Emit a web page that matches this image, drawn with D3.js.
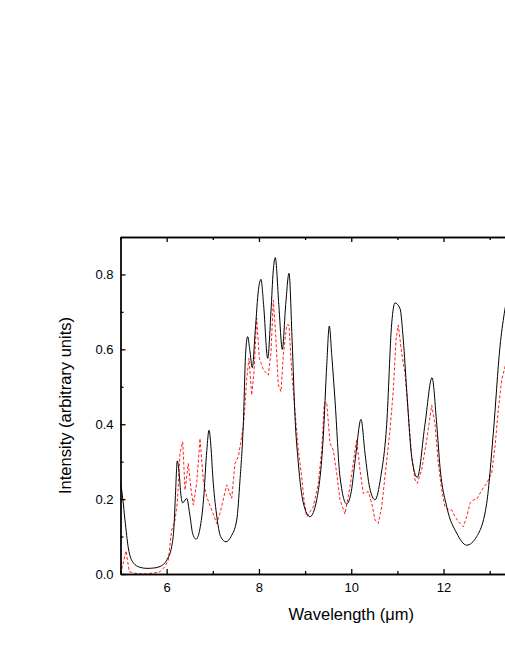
<!DOCTYPE HTML>
<html>
    <head>
        <meta charset="utf-8">
        <style>
            body { margin: 0; background: #fff; }
            .axis path, .axis line { stroke: #000; stroke-width: 1.3; }
            .title { font-family: "Liberation Sans", Arial, sans-serif; font-size: 16.5px; fill: #000; }
        </style>
        <script src="https://d3js.org/d3.v7.min.js"></script>
    </head>
    <body>
        <svg width="505" height="654"></svg>
        <script>
            // measured spectrum (solid black)
            var calcX = [5.0, 5.05, 5.097, 5.169, 5.277, 5.42, 5.568, 5.72, 5.856, 6.001, 6.109, 6.16, 6.19, 6.231,
                         6.27, 6.31, 6.348, 6.434, 6.5, 6.56, 6.636, 6.72, 6.80, 6.87, 6.918, 6.96, 7.0, 7.08, 7.17,
                         7.286, 7.394, 7.518, 7.589, 7.661, 7.713, 7.756, 7.80, 7.856, 7.92, 7.99, 8.044, 8.10, 8.19,
                         8.26, 8.31, 8.354, 8.43, 8.506, 8.58, 8.651, 8.72, 8.781, 8.853, 8.961, 9.106, 9.251, 9.394,
                         9.47, 9.524, 9.58, 9.648, 9.756, 9.901, 10.0, 10.1, 10.211, 10.3, 10.4, 10.515, 10.64,
                         10.768, 10.877, 10.948, 11.056, 11.128, 11.202, 11.310, 11.431, 11.598, 11.750, 11.852,
                         11.923, 12.068, 12.285, 12.502, 12.718, 12.935, 13.078, 13.223, 13.316, 13.4];
            var calcY = [0.246, 0.20, 0.144, 0.07, 0.03, 0.018, 0.015, 0.016, 0.02, 0.037, 0.073, 0.13, 0.21, 0.302,
                         0.27, 0.21, 0.19, 0.202, 0.16, 0.11, 0.093, 0.12, 0.2, 0.33, 0.384, 0.34, 0.26, 0.16, 0.1,
                         0.086, 0.10, 0.144, 0.25, 0.40, 0.593, 0.634, 0.60, 0.551, 0.65, 0.76, 0.787, 0.72, 0.576,
                         0.70, 0.81, 0.845, 0.72, 0.60, 0.72, 0.803, 0.62, 0.42, 0.296, 0.19, 0.153, 0.198, 0.367,
                         0.56, 0.662, 0.58, 0.464, 0.26, 0.187, 0.22, 0.32, 0.413, 0.32, 0.23, 0.198, 0.26,
                         0.40, 0.67, 0.724, 0.709, 0.625, 0.49, 0.313, 0.258, 0.40, 0.524, 0.40,
                         0.286, 0.18, 0.109, 0.077, 0.10, 0.189, 0.376, 0.607, 0.696, 0.75];

            // second spectrum (red dashed)
            var obsX = [5.004, 5.119, 5.191, 5.314, 5.531, 5.748, 5.856, 5.964, 6.036, 6.109, 6.181, 6.231, 6.289,
                        6.348, 6.398, 6.469, 6.521, 6.577, 6.651, 6.723, 6.794, 6.868, 6.976, 7.084, 7.156, 7.301,
                        7.410, 7.481, 7.553, 7.626, 7.676, 7.735, 7.784, 7.843, 7.893, 7.951, 8.008, 8.094, 8.203,
                        8.261, 8.311, 8.363, 8.419, 8.478, 8.528, 8.601, 8.651, 8.710, 8.781, 8.853, 8.926, 8.976,
                        9.035, 9.106, 9.178, 9.286, 9.360, 9.416, 9.468, 9.540, 9.611, 9.685, 9.756, 9.864, 9.973,
                        10.081, 10.118, 10.189, 10.261, 10.369, 10.443, 10.515, 10.586, 10.660, 10.731, 10.840,
                        10.911, 10.970, 11.019, 11.093, 11.165, 11.236, 11.310, 11.382, 11.431, 11.527, 11.635,
                        11.743, 11.815, 11.886, 11.960, 12.031, 12.103, 12.177, 12.248, 12.357, 12.428, 12.502,
                        12.573, 12.645, 12.718, 12.827, 12.935, 13.043, 13.115, 13.186, 13.260, 13.331, 13.4];
            var obsY = [0.0, 0.062, 0.006, 0.002, 0.0, 0.003, 0.006, 0.02, 0.037, 0.117, 0.144, 0.19, 0.322,
                        0.353, 0.224, 0.295, 0.233, 0.184, 0.242, 0.362, 0.25, 0.206, 0.171, 0.135, 0.162, 0.238,
                        0.202, 0.295, 0.313, 0.367, 0.41, 0.522, 0.576, 0.478, 0.54, 0.683, 0.576, 0.545, 0.531,
                        0.593, 0.731, 0.638, 0.505, 0.487, 0.585, 0.665, 0.665, 0.54, 0.435, 0.331, 0.26, 0.198,
                        0.153, 0.166, 0.18, 0.242, 0.331, 0.456, 0.459, 0.349, 0.331, 0.269, 0.198, 0.16, 0.233,
                        0.331, 0.358, 0.278, 0.215, 0.22, 0.189, 0.144, 0.135, 0.18, 0.26, 0.384,
                        0.491, 0.625, 0.665, 0.589, 0.536, 0.429, 0.313, 0.251, 0.242, 0.278, 0.358,
                        0.451, 0.40, 0.295, 0.224, 0.18, 0.171, 0.171, 0.153, 0.135, 0.126, 0.153,
                        0.189, 0.198, 0.199, 0.224, 0.242, 0.269, 0.34, 0.438, 0.518, 0.553, 0.59];

            var xMajor = [6, 8, 10, 12];
            var xMinor = [5, 7, 9, 11, 13];
            var yMajor = [0.0, 0.2, 0.4, 0.6, 0.8];
            var yMinor = [0.1, 0.3, 0.5, 0.7, 0.9];

            var svg = d3.select("svg"),
                mLeft = 120.5, mTop = 237, mRight = 582, mBottom = 574;

            var x = d3.scaleLinear().domain([5, 15]).range([mLeft, mRight]);
            var y = d3.scaleLinear().domain([0, 0.9]).range([mBottom, mTop]);

            var calc = calcX.map(function(d, i) { return [d, calcY[i]]; });
            var obs = obsX.map(function(d, i) { return [d, obsY[i]]; });

            svg.append("clipPath").attr("id", "plot")
               .append("rect").attr("x", mLeft).attr("y", mTop)
               .attr("width", mRight - mLeft).attr("height", mBottom - mTop);

            var lineCalc = d3.line()
                .x(function(d) { return x(d[0]); })
                .y(function(d) { return y(d[1]); })
                .curve(d3.curveMonotoneX);

            var lineObs = d3.line()
                .x(function(d) { return x(d[0]); })
                .y(function(d) { return y(d[1]); });

            svg.append("path")
               .datum(obs)
               .attr("clip-path", "url(#plot)")
               .attr("fill", "none")
               .attr("stroke", "#ff2020")
               .attr("stroke-width", 1)
               .attr("stroke-dasharray", "3,2")
               .attr("d", lineObs);

            svg.append("path")
               .datum(calc)
               .attr("clip-path", "url(#plot)")
               .attr("fill", "none")
               .attr("stroke", "#000")
               .attr("stroke-width", 1)
               .attr("d", lineCalc);

            function styleAxis(g) {
                g.attr("font-family", "Liberation Sans, Arial, sans-serif").attr("font-size", 13);
                g.selectAll("text").attr("fill", "#000");
            }

            // bottom axis
            svg.append("g").attr("class", "axis")
               .attr("transform", "translate(0," + mBottom + ")")
               .call(d3.axisBottom(x).tickValues(xMajor).tickSizeInner(-5).tickSizeOuter(0).tickPadding(9)
                     .tickFormat(d3.format("d")))
               .call(styleAxis);
            svg.append("g").attr("class", "axis")
               .attr("transform", "translate(0," + mBottom + ")")
               .call(d3.axisBottom(x).tickValues(xMinor).tickSizeInner(-3).tickSizeOuter(0).tickFormat(""));

            // top axis
            svg.append("g").attr("class", "axis")
               .attr("transform", "translate(0," + mTop + ")")
               .call(d3.axisTop(x).tickValues(xMajor).tickSizeInner(-5).tickSizeOuter(0).tickFormat(""));
            svg.append("g").attr("class", "axis")
               .attr("transform", "translate(0," + mTop + ")")
               .call(d3.axisTop(x).tickValues(xMinor).tickSizeInner(-3).tickSizeOuter(0).tickFormat(""));

            // left axis
            svg.append("g").attr("class", "axis")
               .attr("transform", "translate(" + mLeft + ",0)")
               .call(d3.axisLeft(y).tickValues(yMajor).tickSizeInner(-5).tickSizeOuter(0).tickPadding(7)
                     .tickFormat(d3.format(".1f")))
               .call(styleAxis);
            svg.append("g").attr("class", "axis")
               .attr("transform", "translate(" + mLeft + ",0)")
               .call(d3.axisLeft(y).tickValues(yMinor).tickSizeInner(-3).tickSizeOuter(0).tickFormat(""));

            svg.append("text")
               .attr("class", "title")
               .attr("x", (mLeft + mRight) / 2)
               .attr("y", 620)
               .attr("text-anchor", "middle")
               .text("Wavelength (\u03bcm)");

            svg.append("text")
               .attr("class", "title")
               .attr("transform", "translate(71," + ((mTop + mBottom) / 2) + ") rotate(-90)")
               .attr("text-anchor", "middle")
               .text("Intensity (arbitrary units)");
        </script>
    </body>
</html>
